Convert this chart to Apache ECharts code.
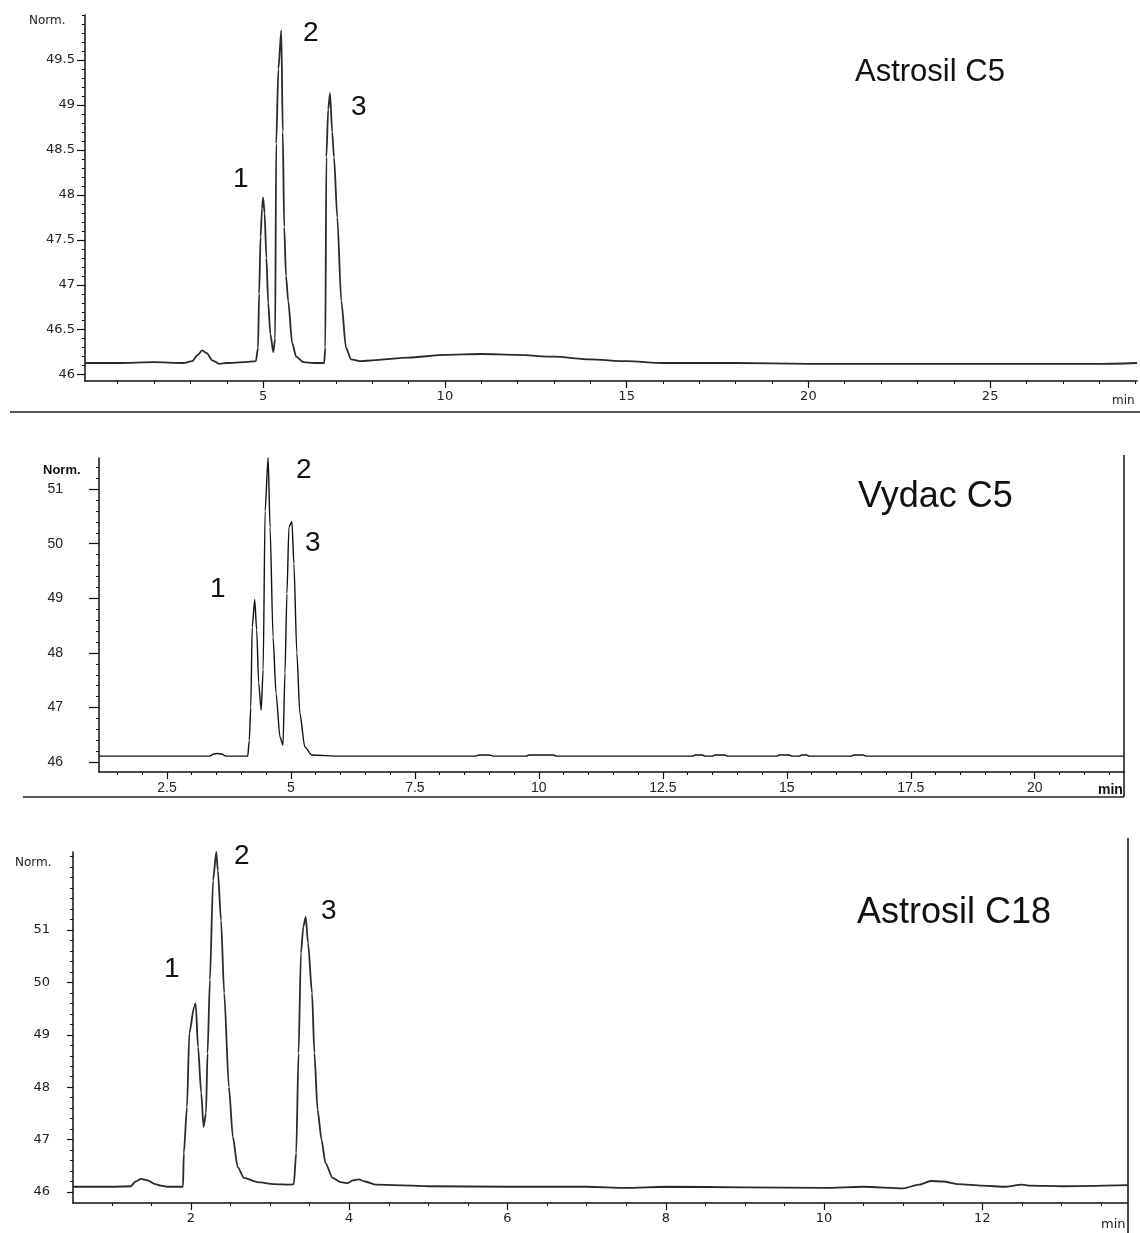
<!DOCTYPE html>
<html>
<head>
<meta charset="utf-8">
<script src="https://cdn.jsdelivr.net/npm/echarts@6/dist/echarts.min.js"></script>
<style>
  html, body { margin: 0; padding: 0; background: #fff; }
  #chart { width: 1140px; height: 1233px; }
</style>
</head>
<body>
<div id="chart"></div>
<script>
// ---------------- DATA ----------------
// Panel 1: Astrosil C5
const astroC5Time = [0.1, 1.0, 2.0, 2.8, 3.05, 3.2, 3.32, 3.45, 3.6, 3.8, 4.0, 4.5, 4.8, 4.86, 4.89, 4.93, 4.97, 5.0, 5.04, 5.09, 5.14, 5.2, 5.28, 5.33, 5.36, 5.42, 5.5, 5.54, 5.58, 5.63, 5.69, 5.8, 5.91, 6.1, 6.4, 6.68, 6.71, 6.74, 6.79, 6.84, 6.9, 6.95, 7.04, 7.15, 7.28, 7.42, 7.7, 8.0, 9.0, 10.0, 11.0, 12.0, 13.0, 14.0, 15.0, 16.0, 18.0, 20.0, 22.0, 24.0, 26.0, 28.0, 29.04];
const astroC5Signal = [46.13, 46.13, 46.14, 46.13, 46.15, 46.22, 46.27, 46.24, 46.16, 46.12, 46.13, 46.14, 46.15, 46.3, 46.9, 47.53, 47.85, 47.97, 47.8, 47.3, 46.8, 46.45, 46.25, 46.4, 48.57, 49.4, 49.83, 48.7, 47.64, 47.1, 46.82, 46.35, 46.2, 46.14, 46.13, 46.13, 46.3, 48.42, 48.95, 49.13, 48.7, 48.42, 47.75, 46.82, 46.3, 46.17, 46.15, 46.16, 46.19, 46.22, 46.23, 46.22, 46.2, 46.17, 46.15, 46.13, 46.13, 46.12, 46.12, 46.12, 46.12, 46.12, 46.13];

// Panel 2: Vydac C5
const vydacTime = [1.13, 2.0, 3.0, 3.35, 3.45, 3.51, 3.6, 3.7, 4.0, 4.13, 4.16, 4.19, 4.22, 4.27, 4.31, 4.35, 4.4, 4.44, 4.48, 4.54, 4.58, 4.64, 4.7, 4.78, 4.84, 4.88, 4.92, 4.96, 5.02, 5.06, 5.12, 5.18, 5.28, 5.42, 6.0, 7.0, 8.7, 8.8, 9.0, 9.1, 9.75, 9.8, 10.3, 10.35, 12.0, 13.1, 13.15, 13.3, 13.35, 13.5, 13.55, 13.75, 13.8, 14.8, 14.85, 15.05, 15.1, 15.25, 15.3, 15.4, 15.45, 16.3, 16.35, 16.55, 16.6, 18.0, 20.0, 21.8];
const vydacSignal = [46.11, 46.11, 46.11, 46.11, 46.15, 46.16, 46.15, 46.11, 46.11, 46.11, 46.4, 47.0, 48.47, 48.98, 48.42, 47.45, 46.95, 47.69, 50.6, 51.58, 50.3, 48.29, 47.26, 46.46, 46.31, 47.63, 49.09, 50.3, 50.41, 49.64, 48.0, 46.9, 46.28, 46.13, 46.11, 46.11, 46.11, 46.13, 46.13, 46.11, 46.11, 46.13, 46.13, 46.11, 46.11, 46.11, 46.13, 46.13, 46.11, 46.11, 46.13, 46.13, 46.11, 46.11, 46.13, 46.13, 46.11, 46.11, 46.13, 46.13, 46.11, 46.11, 46.13, 46.13, 46.11, 46.11, 46.11, 46.11];

// Panel 3: Astrosil C18
const astroC18Time = [0.51, 1.0, 1.24, 1.3, 1.37, 1.45, 1.55, 1.62, 1.7, 1.9, 1.91, 1.95, 1.98, 2.04, 2.06, 2.09, 2.13, 2.16, 2.19, 2.21, 2.24, 2.28, 2.32, 2.34, 2.38, 2.42, 2.48, 2.53, 2.59, 2.67, 2.84, 3.05, 3.26, 3.3, 3.33, 3.36, 3.39, 3.42, 3.45, 3.48, 3.53, 3.56, 3.6, 3.65, 3.7, 3.79, 3.89, 3.98, 4.05, 4.12, 4.2, 4.34, 5.0, 6.0, 7.0, 7.5, 8.0, 9.0, 10.0, 10.5, 11.0, 11.2, 11.35, 11.5, 11.7, 12.0, 12.3, 12.5, 12.6, 13.0, 13.84];
const astroC18Signal = [46.1, 46.1, 46.11, 46.2, 46.25, 46.22, 46.15, 46.12, 46.1, 46.1, 46.74, 47.62, 49.03, 49.53, 49.6, 48.77, 47.89, 47.24, 47.5, 48.65, 50.05, 51.95, 52.49, 52.14, 51.19, 49.8, 48.0, 47.05, 46.48, 46.27, 46.19, 46.15, 46.14, 46.15, 46.74, 48.65, 50.56, 51.06, 51.25, 50.75, 49.8, 48.65, 47.57, 47.0, 46.55, 46.27, 46.19, 46.17, 46.22, 46.24, 46.2, 46.14, 46.11, 46.1, 46.1, 46.08, 46.1, 46.09, 46.08, 46.1, 46.07, 46.14, 46.21, 46.2, 46.15, 46.12, 46.1, 46.14, 46.12, 46.11, 46.13];

// Tick labels
const astroC5XLabels = [5, 10, 15, 20, 25];
const astroC5YLabels = [46, 46.5, 47, 47.5, 48, 48.5, 49, 49.5];
const vydacXLabels = [2.5, 5, 7.5, 10, 12.5, 15, 17.5, 20];
const vydacYLabels = [46, 47, 48, 49, 50, 51];
const astroC18XLabels = [2, 4, 6, 8, 10, 12];
const astroC18YLabels = [46, 47, 48, 49, 50, 51];

// Minor tick positions
function steps(a, b, s) { const r = []; for (let v = a; v <= b + 1e-9; v += s) r.push(Math.round(v * 100) / 100); return r; }
const astroC5XMinor = steps(1, 29, 1);
const astroC5YMinor = steps(46, 50, 0.1);
const vydacXMinor = steps(1.5, 21.5, 0.5);
const vydacYMinor = steps(46, 51.5, 0.2);
const astroC18XMinor = steps(1, 13.5, 0.5);
const astroC18YMinor = steps(46, 52.4, 0.2);

// ---------------- CHART ----------------
const chart = echarts.init(document.getElementById('chart'), null, { renderer: 'canvas' });
const pair = (t, v) => t.map((x, i) => [x, v[i]]);

const grids = [
  { left: 85, top: 15, width: 1052, height: 366 },
  { left: 99, top: 458, width: 1025, height: 314 },
  { left: 73, top: 852, width: 1055, height: 351 }
];
const xr = [[0.1, 29.04], [1.13, 21.8], [0.51, 13.84]];
const yr = [[45.93, 50.0], [45.82, 51.57], [45.79, 52.49]];
const xLab = [astroC5XLabels, vydacXLabels, astroC18XLabels];
const yLab = [astroC5YLabels, vydacYLabels, astroC18YLabels];
const xMin = [astroC5XMinor, vydacXMinor, astroC18XMinor];
const yMin = [astroC5YMinor, vydacYMinor, astroC18YMinor];
const fonts = ['DejaVu Sans', 'Liberation Sans', 'DejaVu Sans'];
const xfs = [13, 14, 13];
const yfs = [13, 14, 13];
const yMargin = [10, 36, 23];
const yTickLen = [8, 10, 6];

const xAxes = [], yAxes = [];
for (let i = 0; i < 3; i++) {
  const lineCol = '#111';
  xAxes.push({
    type: 'value', gridIndex: i, position: 'bottom', min: xr[i][0], max: xr[i][1],
    axisLine: { show: true, onZero: false, lineStyle: { color: lineCol, width: 1.5 } },
    axisTick: { show: true, customValues: xLab[i], length: 7, lineStyle: { color: lineCol, width: 1.2 } },
    axisLabel: { show: true, customValues: xLab[i], color: '#222', fontFamily: fonts[i], fontSize: xfs[i], margin: 9 },
    splitLine: { show: false }
  });
  xAxes.push({
    type: 'value', gridIndex: i, position: 'bottom', min: xr[i][0], max: xr[i][1],
    axisLine: { show: false, onZero: false },
    axisTick: { show: true, customValues: xMin[i], length: 3, lineStyle: { color: lineCol, width: 1 } },
    axisLabel: { show: false },
    splitLine: { show: false }
  });
  yAxes.push({
    type: 'value', gridIndex: i, position: 'left', min: yr[i][0], max: yr[i][1],
    axisLine: { show: true, onZero: false, lineStyle: { color: lineCol, width: 1.5 } },
    axisTick: { show: true, customValues: yLab[i], length: yTickLen[i], lineStyle: { color: lineCol, width: 1.2 } },
    axisLabel: { show: true, customValues: yLab[i], color: '#222', fontFamily: fonts[i], fontSize: yfs[i], margin: yMargin[i] },
    splitLine: { show: false }
  });
  yAxes.push({
    type: 'value', gridIndex: i, position: 'left', min: yr[i][0], max: yr[i][1],
    axisLine: { show: false, onZero: false },
    axisTick: { show: true, customValues: yMin[i], length: 3, lineStyle: { color: lineCol, width: 1 } },
    axisLabel: { show: false },
    splitLine: { show: false }
  });
}

const mkSeries = (i, t, v, w, col) => ({
  type: 'line', xAxisIndex: 2 * i, yAxisIndex: 2 * i, data: pair(t, v),
  showSymbol: false, symbol: 'none', clip: true,
  smooth: 0.25, smoothMonotone: 'x',
  lineStyle: { color: col, width: w }, z: 3
});

const txt = (x, y, s, size, extra) => Object.assign({
  type: 'text', x: x, y: y,
  style: { text: s, fill: '#111', font: size + 'px "Liberation Sans", Arial, sans-serif', textVerticalAlign: 'middle' }
}, extra || {});

const option = {
  animation: false,
  backgroundColor: '#fff',
  grid: grids,
  xAxis: xAxes,
  yAxis: yAxes,
  series: [
    mkSeries(0, astroC5Time, astroC5Signal, 1.8, '#2a2a2a'),
    mkSeries(1, vydacTime, vydacSignal, 1.4, '#111'),
    mkSeries(2, astroC18Time, astroC18Signal, 1.8, '#2a2a2a')
  ],
  graphic: [
    // separators and frames
    { type: 'line', shape: { x1: 10, y1: 412, x2: 1140, y2: 412 }, style: { stroke: '#222', lineWidth: 1.5 } },
    { type: 'line', shape: { x1: 23, y1: 797, x2: 1124, y2: 797 }, style: { stroke: '#222', lineWidth: 1.5 } },
    { type: 'line', shape: { x1: 1124, y1: 455, x2: 1124, y2: 797 }, style: { stroke: '#111', lineWidth: 1.5 } },
    { type: 'line', shape: { x1: 1128, y1: 838, x2: 1128, y2: 1233 }, style: { stroke: '#111', lineWidth: 1.5 } },
    // "Norm." labels
    { type: 'text', x: 29, y: 21, style: { text: 'Norm.', fill: '#222', font: '12px "DejaVu Sans", sans-serif', textVerticalAlign: 'middle' } },
    { type: 'text', x: 43, y: 470, style: { text: 'Norm.', fill: '#111', font: 'bold 13px "Liberation Sans", Arial, sans-serif', textVerticalAlign: 'middle' } },
    { type: 'text', x: 15, y: 863, style: { text: 'Norm.', fill: '#222', font: '12px "DejaVu Sans", sans-serif', textVerticalAlign: 'middle' } },
    // "min" labels
    { type: 'text', x: 1112, y: 401, style: { text: 'min', fill: '#222', font: '12px "DejaVu Sans", sans-serif', textVerticalAlign: 'middle' } },
    { type: 'text', x: 1098, y: 790, style: { text: 'min', fill: '#111', font: 'bold 14px "Liberation Sans", Arial, sans-serif', textVerticalAlign: 'middle' } },
    { type: 'text', x: 1101, y: 1225, style: { text: 'min', fill: '#222', font: '13px "DejaVu Sans", sans-serif', textVerticalAlign: 'middle' } },
    // Panel titles
    txt(855, 72, 'Astrosil C5', 31),
    txt(858, 497, 'Vydac C5', 36),
    txt(857, 913, 'Astrosil C18', 36),
    // Peak numbers
    txt(233, 179, '1', 28), txt(303, 33, '2', 28), txt(351, 107, '3', 28),
    txt(210, 589, '1', 28), txt(296, 470, '2', 28), txt(305, 543, '3', 28),
    txt(164, 969, '1', 28), txt(234, 856, '2', 28), txt(321, 911, '3', 28)
  ]
};
chart.setOption(option);
</script>
</body>
</html>
